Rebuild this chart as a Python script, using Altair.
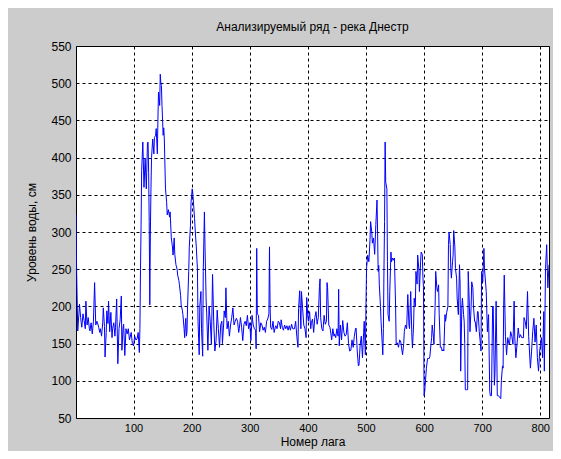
import altair as alt
import pandas as pd

# Lag numbers and water levels (cm)
lag_a = [1, 2, 4, 6, 7, 9, 10, 11, 13, 15, 17, 18, 20, 22, 24, 25, 27, 29, 31, 33, 35, 37, 38, 40, 42, 43, 45, 47, 48, 50,
         51, 53, 54, 56, 57, 59, 61, 63, 64, 66, 68, 69, 71, 73, 75, 77, 79, 80, 82, 83, 85, 87, 89, 91, 93, 94, 96, 98, 100,
         102, 104, 106, 108, 110, 111, 112, 113]
lvl_a = [323, 250, 167, 190, 203, 185, 178, 172, 190, 181, 170, 207, 175, 185, 170, 167, 178, 163, 180, 232, 175, 180, 178, 172, 165, 170, 160, 178, 198, 173,
         132, 165, 194, 177, 207, 166, 192, 158, 170, 178, 160, 172, 210, 123, 170, 182, 214, 141, 172, 176, 134, 170, 163, 170, 155, 158, 165, 150, 147,
         160, 155, 156, 165, 138, 170, 250, 309]

lag_b = [114, 116, 118, 120, 122, 124, 125, 126, 127, 128, 129, 130, 131, 133, 135, 136, 138, 139, 141, 142, 143, 145, 146, 147, 148, 149, 151, 152, 153,
         155, 157, 158, 160, 162, 163, 165, 167, 168, 170, 171, 173, 175, 176, 178, 179, 181, 182, 184, 185, 187, 188, 189, 190, 191, 192, 193, 195, 196, 198,
         199, 201, 202, 204, 205, 207, 208, 209, 210, 211, 213, 214, 216, 217, 219, 220, 222, 223, 225, 226, 228, 230, 232, 234, 236, 238, 240, 242, 244,
         246, 248, 250]
lvl_b = [383, 421, 360, 399, 358, 420, 421, 380, 314, 202, 300, 358, 400, 425, 405, 427, 430, 439, 405, 452, 488, 470, 512, 500, 497, 470, 430, 440, 425,
         358, 340, 323, 330, 320, 327, 292, 280, 269, 292, 270, 256, 250, 242, 235, 229, 215, 202, 195, 189, 170, 158, 175, 184, 160, 166, 200, 247, 280, 309,
         340, 358, 352, 330, 318, 292, 280, 265, 250, 180, 135, 200, 220, 170, 133, 247, 327, 280, 207, 190, 141, 200, 180, 149, 243, 180, 140, 154, 195,
         170, 145, 175]

lag_c = [252, 253, 255, 256, 258, 259, 261, 263, 265, 267, 269, 271, 273, 275, 277, 279, 281, 282, 284, 286, 288, 290, 292, 294, 296, 298, 300, 302, 304,
         306, 308, 310, 311, 312, 313, 315, 317, 319, 321, 323, 325, 327, 329, 331, 333, 334, 335, 336, 338, 340, 342, 344, 345, 347, 349, 351, 353, 354,
         356, 358, 360, 362, 364, 366, 368, 370, 372, 374, 377, 379, 381, 383, 384, 386, 388, 389, 391, 393, 395, 397, 398, 400]
lvl_c = [180, 150, 175, 194, 185, 225, 170, 180, 160, 175, 185, 198, 175, 180, 184, 180, 165, 170, 185, 172, 154, 176, 180, 174, 188, 170, 178, 154, 188,
         175, 170, 168, 143, 278, 190, 188, 166, 178, 175, 168, 172, 165, 180, 183, 190, 280, 200, 172, 169, 180, 165, 172, 174, 170, 180, 178, 170, 182,
         172, 168, 175, 170, 174, 168, 174, 168, 176, 170, 170, 180, 160, 145, 197, 221, 170, 220, 197, 175, 170, 158, 212, 185]

lag_d = [401, 403, 405, 406, 408, 410, 412, 414, 416, 418, 420, 421, 422, 424, 426, 428, 430, 432, 433, 434, 436, 438, 439, 441, 443, 445, 446, 448, 450,
         452, 453, 454, 456, 458, 460, 462, 464, 466, 468, 470, 472, 474, 476, 478, 480, 482, 483, 485, 487, 488, 490, 492, 494, 496, 497, 499, 500]
lvl_d = [180, 193, 170, 178, 183, 165, 185, 193, 176, 185, 227, 237, 185, 170, 167, 188, 176, 180, 232, 225, 175, 172, 167, 155, 170, 160, 163, 158, 170,
         160, 223, 147, 175, 155, 181, 165, 160, 162, 178, 150, 140, 141, 155, 145, 160, 170, 171, 140, 120, 121, 148, 160, 131, 165, 180, 135, 200]

lag_e = [501, 503, 505, 507, 508, 510, 511, 513, 515, 517, 519, 520, 521, 522, 523, 525, 526, 528, 529, 530, 531, 532, 533, 534, 536, 537, 538, 540, 541,
         543, 544, 546, 548, 549, 551, 552, 554, 556, 558, 560, 562, 563, 565, 566, 568, 570, 572, 574, 575, 577, 579, 580, 582, 583, 585, 586, 588, 589,
         591, 592, 594, 595, 597, 598, 599, 600]
lvl_e = [251, 269, 260, 290, 314, 300, 285, 292, 270, 310, 343, 300, 247, 255, 229, 200, 180, 150, 135, 170, 250, 314, 421, 367, 358, 260, 189, 180, 220,
         273, 260, 265, 262, 265, 200, 149, 151, 145, 155, 152, 140, 135, 150, 166, 175, 170, 216, 175, 170, 220, 160, 144, 175, 211, 200, 247, 230, 269,
         250, 220, 260, 273, 270, 240, 225, 80]

lag_f = [601, 602, 604, 606, 607, 609, 610, 612, 613, 614, 616, 617, 619, 620, 622, 623, 625, 626, 628, 630, 631, 633, 634, 636, 637, 639, 641, 642, 643,
         645, 646, 647, 649, 650, 651, 653, 654, 656, 657, 659, 661, 662, 663, 665, 666, 668, 669, 670, 671, 673, 675, 676, 678, 679, 681, 682, 684, 685,
         687, 688, 690, 692, 693, 695, 697, 698, 699, 701, 703, 704, 706, 707, 709, 710, 711, 713, 714, 716, 718, 719, 721, 722, 724, 725, 726, 728, 730,
         732, 733, 735, 736, 737, 738]
lvl_f = [85, 95, 117, 130, 130, 130, 133, 150, 158, 175, 160, 149, 200, 247, 225, 220, 229, 190, 145, 145, 140, 142, 140, 189, 180, 192, 200, 283, 300,
         283, 250, 238, 260, 269, 302, 280, 251, 238, 210, 189, 256, 230, 113, 200, 211, 189, 180, 150, 88, 88, 88, 247, 200, 166, 200, 233, 225, 200,
         180, 180, 166, 193, 193, 166, 150, 140, 247, 233, 278, 250, 230, 220, 166, 180, 189, 86, 80, 80, 200, 200, 94, 110, 207, 150, 80, 80, 78,
         76, 100, 120, 117, 200, 242]

lag_g = [740, 742, 744, 746, 747, 749, 751, 753, 755, 756, 758, 760, 762, 764, 766, 768, 771, 772, 774, 776, 778, 780, 783, 785, 787, 789, 791, 793, 795,
         797, 799, 802, 804, 806, 807, 809, 811, 813, 815]
lvl_g = [160, 135, 158, 150, 149, 166, 160, 149, 207, 160, 131, 149, 171, 158, 162, 158, 158, 185, 180, 170, 220, 160, 117, 140, 166, 184, 152, 175, 131,
         113, 140, 158, 131, 193, 113, 251, 283, 225, 256]

x_ticks = [100, 200, 300, 400, 500, 600, 700, 800]
y_ticks = [50, 100, 150, 200, 250, 300, 350, 400, 450, 500, 550]

lags = lag_a + lag_b + lag_c + lag_d + lag_e + lag_f + lag_g
levels = lvl_a + lvl_b + lvl_c + lvl_d + lvl_e + lvl_f + lvl_g
df = pd.DataFrame({"lag": lags, "level": levels})

font = "Liberation Sans"

chart = alt.Chart(df).mark_line(color="#0000ff", strokeWidth=1, clip=True).encode(
    x=alt.X("lag:Q",
            scale=alt.Scale(domain=[1, 815], nice=False, zero=False),
            axis=alt.Axis(values=x_ticks, title="Номер лага", grid=True,
                          gridColor="#000000", gridDash=[3, 3], gridWidth=1, gridOpacity=1,
                          domain=False, ticks=False,
                          labelFont=font, labelFontSize=11, labelColor="#000000",
                          labelPadding=4, titleFont=font, titleFontSize=12,
                          titleFontWeight="normal", titleColor="#000000", titlePadding=3)),
    y=alt.Y("level:Q",
            scale=alt.Scale(domain=[50, 550], nice=False, zero=False),
            axis=alt.Axis(values=y_ticks, title="Уровень воды, см", grid=True,
                          gridColor="#000000", gridDash=[3, 3], gridWidth=1, gridOpacity=1,
                          domain=False, ticks=False,
                          labelFont=font, labelFontSize=12, labelColor="#000000",
                          labelPadding=5, titleFont=font, titleFontSize=12,
                          titleFontWeight="normal", titleColor="#000000", titlePadding=12)),
).properties(
    width=473,
    height=372,
    title=alt.TitleParams("Анализируемый ряд - река Днестр", font=font, fontSize=12,
                          fontWeight="normal", color="#000000", offset=6),
    background="#cccccc",
    autosize=alt.AutoSizeParams(type="none"),
    padding={"left": 68, "top": 38, "right": 4, "bottom": 33},
).configure_view(
    stroke="#000000", strokeWidth=1, fill="#ffffff"
)

chart.save("out.html", embed_options={"renderer": "svg", "actions": False})
